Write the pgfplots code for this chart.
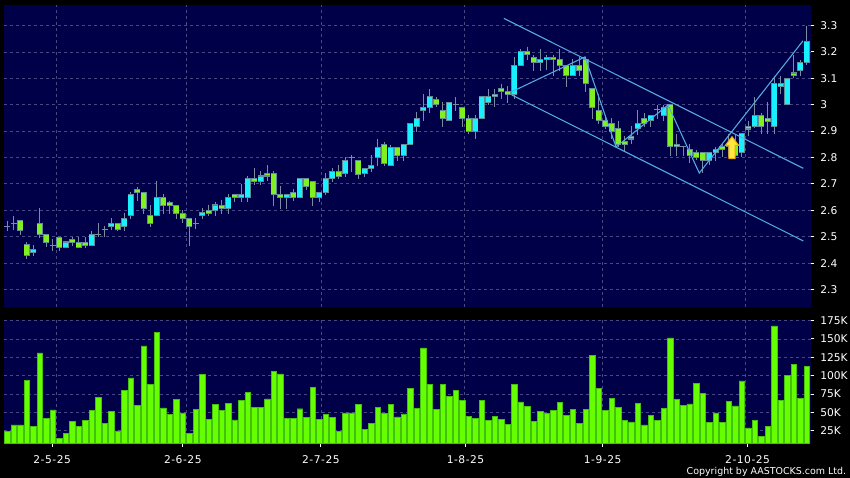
\documentclass[border=0pt]{standalone}
\usepackage{pgfplots}
\pgfplotsset{compat=1.18}
\usepackage{pgfplotstable}
\usepackage{fontspec}
\setmainfont{DejaVu Sans}
\newfontfamily\spaced[LetterSpace=5]{DejaVu Sans}

\definecolor{panel}{HTML}{000048}
\definecolor{gridc}{HTML}{484884}
\definecolor{wick}{HTML}{7C8CA0}
\definecolor{edge}{HTML}{5F8E96}
\definecolor{upc}{HTML}{19F0FF}
\definecolor{downc}{HTML}{80F020}
\definecolor{chan}{HTML}{55ACE0}
\definecolor{volc}{HTML}{66FF00}
\definecolor{voledge}{HTML}{44C010}
\definecolor{gold}{HTML}{E8A810}
\definecolor{lemon}{HTML}{FFE840}

% i open high low close
\pgfplotstableread{
i o h l c
4 2.44 2.467 2.427 2.45
9 2.46 2.48 2.46 2.48
13 2.466 2.52 2.466 2.507
16 2.54 2.57 2.525 2.55
18 2.54 2.59 2.52 2.57
19 2.58 2.67 2.567 2.66
23 2.58 2.71 2.58 2.65
30 2.58 2.607 2.567 2.59
32 2.60 2.63 2.58 2.62
34 2.606 2.66 2.586 2.65
36 2.65 2.70 2.63 2.66
37 2.648 2.73 2.63 2.72
39 2.71 2.747 2.695 2.73
43 2.648 2.66 2.605 2.66
45 2.648 2.72 2.648 2.72
48 2.648 2.668 2.63 2.668
49 2.667 2.74 2.658 2.72
50 2.72 2.76 2.708 2.747
52 2.74 2.80 2.727 2.789
55 2.74 2.759 2.727 2.759
56 2.758 2.81 2.746 2.77
57 2.80 2.87 2.768 2.837
59 2.769 2.849 2.769 2.837
61 2.807 2.849 2.787 2.849
62 2.849 2.93 2.849 2.93
63 2.918 2.974 2.898 2.948
64 2.977 3.04 2.94 2.99
65 2.99 3.06 2.97 3.03
68 2.941 3.009 2.941 3.009
72 2.898 2.96 2.87 2.948
73 2.948 3.03 2.948 3.03
74 3.01 3.06 3.0 3.03
75 3.03 3.06 2.99 3.04
78 3.037 3.18 3.02 3.149
79 3.149 3.21 3.149 3.20
82 3.16 3.21 3.127 3.17
83 3.17 3.19 3.13 3.18
87 3.11 3.175 3.11 3.149
96 2.87 2.92 2.85 2.88
97 2.91 2.98 2.885 2.93
99 2.94 2.96 2.917 2.96
101 2.96 3.0 2.94 2.99
108 2.788 2.818 2.77 2.818
109 2.818 2.84 2.788 2.83
113 2.818 2.89 2.80 2.89
115 2.918 3.03 2.91 2.96
118 2.918 3.11 2.89 3.08
119 3.07 3.11 3.04 3.08
120 3.0 3.10 3.0 3.10
122 3.13 3.17 3.11 3.16
123 3.16 3.30 3.15 3.24
}\upcandles

\pgfplotstableread{
i o h l c
2 2.56 2.56 2.507 2.525
3 2.47 2.48 2.415 2.43
5 2.55 2.607 2.496 2.507
6 2.51 2.51 2.46 2.478
8 2.496 2.496 2.447 2.458
10 2.49 2.497 2.465 2.478
11 2.478 2.497 2.458 2.458
12 2.478 2.497 2.458 2.466
17 2.55 2.55 2.52 2.528
20 2.68 2.69 2.636 2.667
21 2.668 2.668 2.586 2.606
22 2.58 2.62 2.538 2.55
24 2.649 2.66 2.586 2.618
25 2.63 2.636 2.586 2.618
26 2.618 2.618 2.567 2.587
27 2.588 2.60 2.55 2.568
28 2.568 2.568 2.465 2.538
31 2.60 2.62 2.58 2.588
33 2.618 2.64 2.586 2.606
35 2.66 2.66 2.63 2.649
38 2.72 2.76 2.695 2.71
40 2.74 2.77 2.71 2.73
41 2.74 2.747 2.617 2.66
42 2.66 2.692 2.605 2.648
44 2.668 2.68 2.636 2.648
46 2.72 2.72 2.677 2.69
47 2.708 2.708 2.616 2.648
51 2.747 2.772 2.72 2.727
54 2.789 2.789 2.72 2.737
58 2.849 2.86 2.768 2.778
60 2.837 2.837 2.787 2.807
66 3.02 3.03 2.99 3.0
67 2.979 3.01 2.917 2.948
70 2.99 2.99 2.917 2.948
71 2.948 2.96 2.89 2.898
76 3.06 3.08 3.02 3.05
77 3.05 3.07 3.008 3.04
80 3.20 3.22 3.17 3.19
81 3.18 3.19 3.127 3.16
84 3.18 3.19 3.11 3.17
85 3.17 3.21 3.127 3.149
86 3.149 3.149 3.068 3.11
88 3.149 3.18 3.11 3.129
89 3.17 3.18 3.05 3.08
90 3.062 3.062 2.946 2.99
91 2.979 3.04 2.927 2.94
92 2.94 2.96 2.908 2.917
93 2.93 2.948 2.87 2.898
94 2.91 2.94 2.84 2.85
95 2.86 2.88 2.82 2.85
98 2.948 2.967 2.917 2.93
102 3.0 3.0 2.807 2.84
103 2.85 2.89 2.807 2.84
105 2.83 2.85 2.778 2.808
106 2.818 2.83 2.79 2.80
107 2.818 2.818 2.74 2.788
110 2.84 2.85 2.80 2.83
111 2.85 2.89 2.80 2.84
112 2.85 2.89 2.808 2.808
114 2.918 2.94 2.88 2.908
116 2.96 2.97 2.89 2.918
117 2.948 3.01 2.89 2.938
121 3.12 3.19 3.10 3.11
}\downcandles

% i close high low (no visible body)
\pgfplotstableread{
i c h l
0 2.54 2.56 2.52
1 2.55 2.58 2.525
7 2.467 2.49 2.447
14 2.509 2.55 2.497
15 2.528 2.54 2.497
29 2.55 2.57 2.528
53 2.80 2.81 2.746
69 3.0 3.03 2.977
100 2.98 2.998 2.945
104 2.84 2.84 2.807
}\dojis

\pgfplotstableread{
i v
0 24.6
1 33.2
2 33.2
3 94
4 31
5 131
6 41.4
7 53.6
8 15
9 21
10 37.8
11 31
12 38.7
13 53.2
14 70.4
15 35
16 51.8
17 25
18 80
19 97
20 60
21 140.6
22 88.5
23 159
24 56.3
25 47.7
26 68
27 49.5
28 21.5
29 54.5
30 102
31 40.5
32 61
33 53
34 62
35 40
36 66.8
37 77
38 57
39 57
40 68.6
41 106
42 102.5
43 41.4
44 42.3
45 55
46 43
47 84
48 41
49 47.7
50 42.8
51 24.6
52 49.5
53 49.5
54 61
55 27
56 34.6
57 57
58 49
59 61
60 44
61 48
62 82.6
63 56
64 138
65 88.5
66 54
67 88.5
68 71.7
69 80
70 66
71 45
72 41.4
73 66.3
74 39.6
75 45
76 41
77 34
78 88.5
79 64.5
80 58.6
81 38
82 51.8
83 48.6
84 53
85 63.6
86 46.4
87 54.5
88 35
89 54
90 128
91 82.6
92 53
93 69
94 57
95 39
96 37
97 62
98 33
99 46
100 39.6
101 55.4
102 151.5
103 68
104 60
105 61.8
106 90
107 76
108 36.4
109 49.5
110 36.4
111 65.4
112 59
113 93
114 29
115 39.6
116 17.8
117 31
118 168
119 66
120 100
121 115
122 69.5
123 113
}\volumes

% upward arrow drawn as a plot mark, tip at the top
\pgfdeclareplotmark{uparrow}{%
  \pgfsetlinewidth{0.75pt}%
  \pgfsetstrokecolor{gold}%
  \pgfsetfillcolor{lemon}%
  \pgfpathmoveto{\pgfqpoint{0pt}{8.5pt}}%
  \pgfpathlineto{\pgfqpoint{5pt}{2pt}}%
  \pgfpathlineto{\pgfqpoint{2.4pt}{2pt}}%
  \pgfpathlineto{\pgfqpoint{2.4pt}{-8pt}}%
  \pgfpathlineto{\pgfqpoint{-2.4pt}{-8pt}}%
  \pgfpathlineto{\pgfqpoint{-2.4pt}{2pt}}%
  \pgfpathlineto{\pgfqpoint{-5pt}{2pt}}%
  \pgfpathclose
  \pgfusepathqfillstroke
}

\pgfplotsset{
  chart/.style={
    scale only axis,
    anchor=south west,
    axis background/.style={fill=panel},
    axis line style={draw=none},
    xmin=-0.508, xmax=123.65,
    major grid style={gridc,line width=0.6pt,dash pattern=on 2.25pt off 2.25pt},
    major tick length=5pt,
    tick align=outside,
    ytick pos=right,
    xtick pos=bottom,
    ymajorgrids=true,
    /pgf/number format/assume math mode=true,
    tick label style={white,font=\fontsize{8}{9}\selectfont},
    tick style={draw=white,line width=0.75pt,dash pattern=on 0pt off 2.6pt on 2.4pt},
    yticklabel style={xshift=-1.5pt},
    clip=true,
  },
  candle/.style={draw=none,mark=none,forget plot,
    error bars/.cd,y dir=minus,y explicit,error mark=none,
    error bar style={#1}},
}

\begin{document}
\begin{tikzpicture}
\fill[black] (0,0) rectangle (637.5pt,358.5pt);
\path[use as bounding box] (0,0) rectangle (637.5pt,358.5pt);

% price panel
\begin{axis}[chart,
  at={(3pt,128.25pt)}, width=605.25pt, height=226.5pt,
  ymin=2.2337, ymax=3.3777,
  ytick={2.3,2.4,2.5,2.6,2.7,2.8,2.9,3,3.1,3.2,3.3},
  yticklabels={2.3,2.4,2.5,2.6,2.7,2.8,2.9,3,3.1,3.2,3.3},
  xtick=\empty,
  extra x ticks={7.5,27.5,48.4,70.4,91.5,113.5},
  extra x tick labels={},
  extra x tick style={grid=major,major tick length=0pt},
]
\addplot[candle={wick,line width=0.75pt}]
  table[x=i,y=h,y error expr=\thisrow{h}-\thisrow{l}] {\upcandles};
\addplot[candle={wick,line width=0.75pt}]
  table[x=i,y=h,y error expr=\thisrow{h}-\thisrow{l}] {\downcandles};
\addplot[candle={wick,line width=0.75pt}]
  table[x=i,y=h,y error expr=\thisrow{h}-\thisrow{l}] {\dojis};
\addplot[only marks,mark=-,mark size=2.2pt,mark options={draw=wick,line width=0.75pt},forget plot]
  table[x=i,y=c] {\dojis};
% candle bodies: rim first, fill on top
\addplot[candle={edge,line width=4.5pt}]
  table[x=i,y expr=\thisrow{c}+0.002,y error expr=\thisrow{c}-\thisrow{o}+0.004] {\upcandles};
\addplot[candle={upc,line width=3.6pt}]
  table[x=i,y expr=\thisrow{c}-0.002,y error expr=\thisrow{c}-\thisrow{o}-0.004] {\upcandles};
\addplot[candle={edge,line width=4.5pt}]
  table[x=i,y expr=\thisrow{o}+0.002,y error expr=\thisrow{o}-\thisrow{c}+0.004] {\downcandles};
\addplot[candle={downc,line width=3.6pt}]
  table[x=i,y expr=\thisrow{o}-0.002,y error expr=\thisrow{o}-\thisrow{c}-0.004] {\downcandles};
% channel
\addplot[chan,line width=0.8pt,forget plot] coordinates {(76.4,3.327) (122.46,2.759)};
\addplot[chan,line width=0.8pt,forget plot] coordinates {(77.6,3.037) (122.46,2.484)};
\addplot[chan,line width=0.8pt,forget plot] coordinates {
  (77.6,3.049) (88.88,3.181) (93.65,2.84) (101.65,2.999) (106.46,2.741) (122.42,3.242)};
% buy arrow
\addplot[only marks,mark=uparrow,forget plot] coordinates {(111.5,2.836)};
\end{axis}

% volume panel
\begin{axis}[chart,
  at={(3pt,26pt)}, width=605.25pt, height=92.25pt,
  ymin=7.9, ymax=175.4,
  ytick={25,50,75,100,125,150,175},
  yticklabels={25K,50K,75K,100K,125K,150K,175K},
  xtick={6.9,27,48.25,70.5,91.6,113.9},
  xticklabels={{\spaced 2-5-25},{\spaced 2-6-25},{\spaced 2-7-25},{\spaced 1-8-25},{\spaced 1-9-25},{\spaced 2-10-25}},
  xticklabel style={yshift=-1pt},
  extra x ticks={7.5,27.5,48.4,70.4,91.5,113.5},
  extra x tick labels={},
  extra x tick style={grid=major,major tick length=0pt},
]
\addplot[ybar,bar width=4.1pt,bar shift=0pt,fill=volc,draw=voledge,line width=0.35pt,forget plot]
  table[x=i,y=v] {\volumes};
\end{axis}

\node[white,anchor=south east,inner sep=0pt,font=\fontsize{7.1}{9}\selectfont]
  at (634.8pt,1pt) {Copyright by AASTOCKS.com Ltd.};
\end{tikzpicture}
\end{document}
